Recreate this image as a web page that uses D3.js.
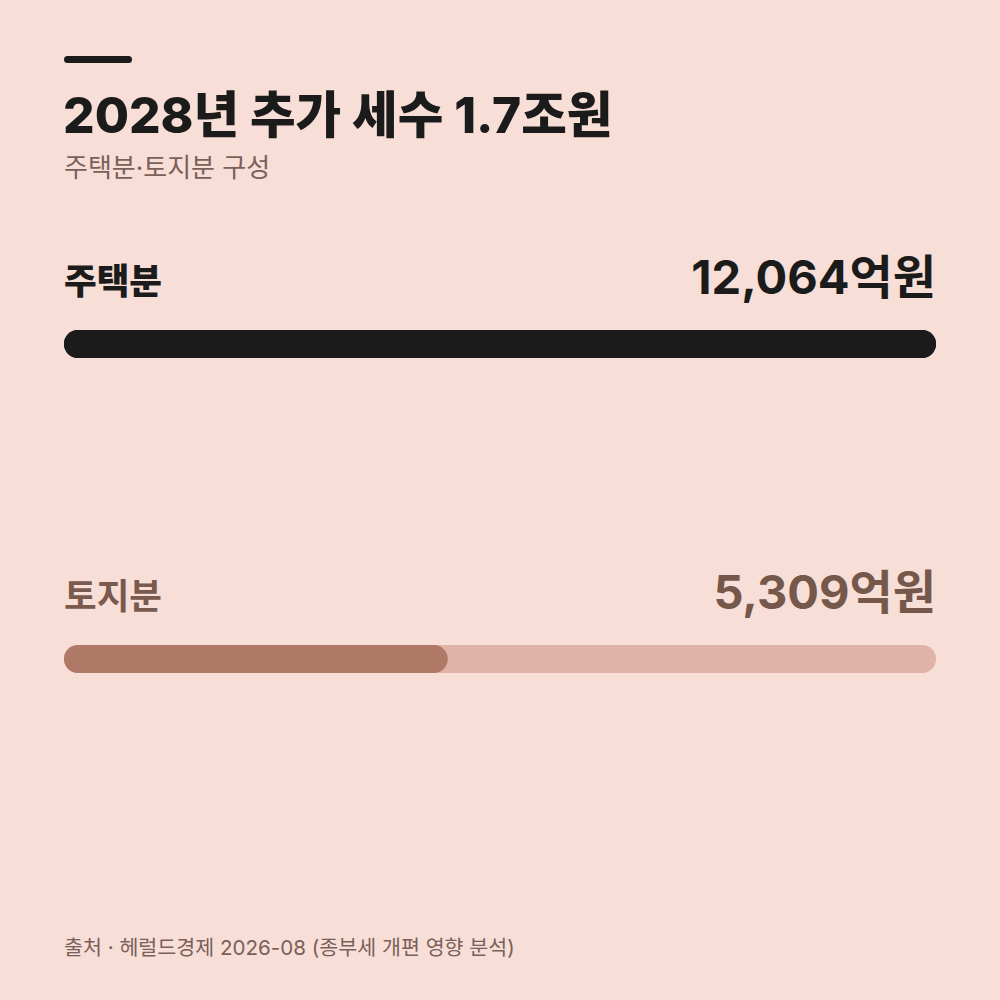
<!DOCTYPE html>
<html>
<head>
<meta charset="utf-8">
<script src="https://cdn.jsdelivr.net/npm/d3@7"></script>
<style>
  html, body { margin: 0; padding: 0; background: #F7DED7; }
  text { font-family: Inter, "Noto Sans CJK KR", sans-serif; }
</style>
</head>
<body>
<svg id="Viz"></svg>
<script>
width = 1000,
height = 1000;

// data
var categories = ["주택분", "토지분"];
var values = [12064, 5309];
var valueLabels = ["12,064억원", "5,309억원"];
var title = "2028년 추가 세수 1.7조원";
var subtitle = "주택분·토지분 구성";
var source = "출처 · 헤럴드경제 2026-08 (종부세 개편 영향 분석)";

function draw() {
  var svg = d3.select("#Viz").attr("width", width).attr("height", height);

  svg.append("rect").attr("width", width).attr("height", height).attr("fill", "#F7DED7");

  // accent line
  svg.append("rect")
    .attr("x", 64).attr("y", 56).attr("width", 68).attr("height", 7).attr("rx", 3.5)
    .attr("fill", "#1C1B1B");

  svg.append("text")
    .attr("x", 63).attr("y", 133)
    .attr("font-size", 49.6).attr("font-weight", 800)
    .attr("fill", "#1C1B1B")
    .text(title);

  svg.append("text")
    .attr("x", 64).attr("y", 177)
    .attr("font-size", 26).attr("font-weight", 400)
    .attr("fill", "#7A6059")
    .text(subtitle);

  var x = d3.scaleLinear().domain([0, d3.max(values)]).range([64, 936]);

  var rowY = d3.scalePoint().domain(categories).range([294, 609]);

  var styles = {
    "주택분": { label: "#1C1B1B", value: "#1C1B1B", track: "#1C1B1B", fill: "#1C1B1B", weight: 800 },
    "토지분": { label: "#7A5A4F", value: "#76574C", track: "#E0B3A8", fill: "#B07866", weight: 600 }
  };

  var rows = svg.append("g")
    .selectAll("g")
    .data(categories)
    .enter()
    .append("g")
      .attr("transform", function(d){ return "translate(0," + rowY(d) + ")"; });

  rows.append("text")
    .attr("x", 64).attr("y", 0)
    .attr("font-size", 35.5)
    .attr("font-weight", function(d){ return styles[d].weight; })
    .attr("fill", function(d){ return styles[d].label; })
    .text(function(d){ return d; });

  rows.append("text")
    .attr("x", 936).attr("y", 0)
    .attr("text-anchor", "end")
    .attr("font-size", 47).attr("font-weight", 700)
    .attr("fill", function(d){ return styles[d].value; })
    .text(function(d, i){ return valueLabels[i]; });

  var barH = 28;
  rows.append("rect")
    .attr("x", x(0)).attr("y", 36)
    .attr("width", x(d3.max(values)) - x(0)).attr("height", barH).attr("rx", barH / 2)
    .attr("fill", function(d){ return styles[d].track; });

  rows.append("rect")
    .attr("x", x(0)).attr("y", 36)
    .attr("width", function(d, i){ return x(values[i]) - x(0); })
    .attr("height", barH).attr("rx", barH / 2)
    .attr("fill", function(d){ return styles[d].fill; });

  svg.append("text")
    .attr("x", 64).attr("y", 955)
    .attr("font-size", 20.6).attr("font-weight", 400)
    .attr("fill", "#7A6059")
    .text(source);
}

document.addEventListener('DOMContentLoaded', () => {
  draw();
});
</script>
</body>
</html>
